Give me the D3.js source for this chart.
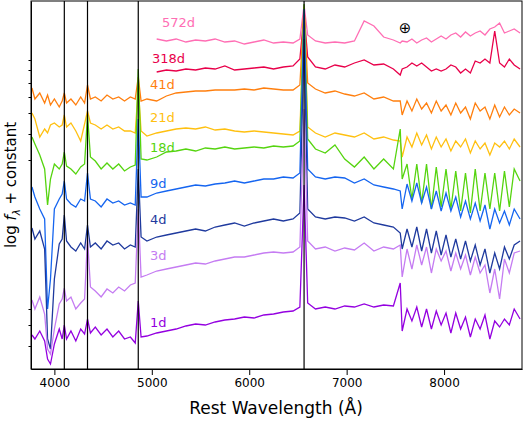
<!DOCTYPE html>
<html><head><meta charset="utf-8">
<script src="https://cdn.jsdelivr.net/npm/d3@7"></script>
<style>body{margin:0;background:#fff}text{font-family:"DejaVu Sans",sans-serif}</style>
</head><body><div id="chart"></div>
<script>
const wave = [3770,3800,3850,3900,3930,3960,4000,4050,4080,4102,4125,4170,4220,4270,4310,4340,4370,4420,4480,4540,4600,4660,4720,4780,4830,4861,4890,4950,5050,5150,5250,5350,5450,5550,5650,5750,5850,5950,6050,6150,6250,6350,6450,6520,6563,6600,6680,6780,6880,6980,7080,7180,7280,7380,7480,7550,7570,7620,7670,7720,7770,7820,7870,7920,7970,8020,8070,8120,8170,8220,8270,8320,8370,8420,8470,8520,8570,8620,8670,8720,8780];
const N = null;
const spec1d = [34,30,38,28,10,5,25,40,30,44,30,38,28,40,35,50,36,42,34,40,32,38,30,32,26,68,32,33,36,38,40,43,45,44,47,49,50,52,51,54,55,57,58,62,184,66,60,62,60,63,62,65,62,64,63,86,38,60,48,62,42,60,40,58,44,56,36,56,40,52,32,50,40,54,30,48,42,50,44,60,50];
const spec3d = [69,60,72,55,20,15,40,65,70,81,68,72,60,66,70,131,82,78,72,80,76,82,78,84,86,160,92,94,98,100,102,104,106,105,108,110,112,112,114,116,117,116,117,122,260,128,120,122,118,121,119,126,118,122,120,124,92,120,100,124,104,122,96,120,108,118,98,116,100,114,94,112,96,104,76,100,70,110,96,116,118];
const spec4d = [141,130,138,120,30,20,90,125,130,154,128,122,118,126,120,144,122,126,120,128,124,126,120,124,122,200,132,128,132,134,136,138,140,138,142,144,146,143,146,148,150,148,150,156,330,160,152,150,152,151,148,152,146,144,142,136,120,140,122,142,118,140,116,138,114,134,112,130,110,128,108,124,104,120,96,116,100,122,110,124,128];
const spec9d = [182,172,160,150,60,90,160,170,175,188,170,165,162,170,168,196,170,168,162,170,166,168,164,166,164,250,172,172,176,178,180,182,184,183,185,186,188,186,188,190,190,192,191,196,360,200,192,190,192,191,186,190,184,182,180,178,160,185,168,186,166,182,160,178,158,176,158,172,152,168,150,166,148,164,140,160,146,158,144,160,150];
const spec18d = [232,225,214,200,164,190,205,200,205,217,203,200,195,202,205,254,212,208,200,206,200,205,198,202,204,300,210,209,212,217,218,220,218,221,220,222,220,221,222,221,223,222,223,228,365,230,220,216,224,210,202,212,200,210,200,240,190,205,170,205,166,205,160,202,162,200,160,198,158,196,156,200,158,196,160,196,158,198,162,200,188];
const spec21d = [256,250,232,240,236,244,246,242,244,254,242,246,238,228,245,258,246,244,240,244,240,242,238,238,236,282,238,233,236,238,240,241,240,242,239,240,238,237,238,237,236,235,234,238,362,242,236,232,236,234,232,236,230,232,229,228,212,232,222,236,224,234,220,232,222,230,218,228,222,230,216,228,220,226,214,226,222,228,220,230,222];
const spec41d = [281,270,276,266,274,264,270,262,268,276,266,270,264,272,266,284,270,272,268,274,270,272,268,272,270,292,268,270,268,273,276,277,278,278,279,279,279,280,279,281,280,279,279,284,362,286,280,276,278,275,273,276,270,272,268,268,254,268,258,270,260,266,256,268,258,264,254,266,256,262,250,266,258,262,250,264,252,262,254,260,256];
const spec318d = [N,N,N,N,N,N,N,N,N,N,N,N,N,N,N,N,N,N,N,N,N,N,N,N,N,N,N,N,297,299,298,300,299,301,300,303,299,300,301,302,300,302,303,310,355,312,302,300,304,302,306,309,304,305,300,294,300,302,306,303,306,302,298,300,298,300,304,302,296,300,296,308,306,310,306,338,306,302,310,304,300];
const spec572d = [N,N,N,N,N,N,N,N,N,N,N,N,N,N,N,N,N,N,N,N,N,N,N,N,N,N,N,N,330,328,330,327,329,328,330,327,328,325,327,329,326,327,326,330,364,334,328,326,327,326,328,348,343,332,329,326,328,327,330,326,329,331,327,330,333,330,334,336,332,337,333,336,338,334,340,342,346,336,338,340,336];

const series = [
  {label:"572d", color:"#ff6eb4", values:spec572d, lx:162, ly:27},
  {label:"318d", color:"#e8004a", values:spec318d, lx:152, ly:63},
  {label:"41d", color:"#ff7f0e", values:spec41d, lx:150, ly:89},
  {label:"21d", color:"#ffc010", values:spec21d, lx:150, ly:122},
  {label:"18d", color:"#55d40f", values:spec18d, lx:150, ly:152},
  {label:"9d", color:"#1565f0", values:spec9d, lx:150, ly:188},
  {label:"4d", color:"#1f3a9e", values:spec4d, lx:150, ly:224},
  {label:"3d", color:"#c57cf2", values:spec3d, lx:150, ly:260},
  {label:"1d", color:"#9400e0", values:spec1d, lx:150, ly:327}
];
const lineWaves = [4102, 4340, 4861, 6563];
const yTicks = [309,299,286,272,256,235,209,60,44,23];
const xTicks = [4000,5000,6000,7000,8000];

const W = 525, H = 421;
const svg = d3.select("#chart").append("svg").attr("width", W).attr("height", H);
const x = d3.scaleLinear().domain([3760, 8800]).range([31, 522]);
const y = d3.scaleLinear().domain([0, 368]).range([369, 1]);

const line = d3.line()
  .defined(d => d[1] !== null)
  .x(d => x(d[0])).y(d => y(d[1]));

const g = svg.append("g");
series.forEach(s => {
  g.append("path")
    .datum(wave.map((w, i) => [w, s.values[i]]))
    .attr("fill", "none").attr("stroke", s.color).attr("stroke-width", 1.3)
    .attr("d", line);
});

svg.selectAll(".vl").data(lineWaves).join("line")
  .attr("x1", d => x(d)).attr("x2", d => x(d))
  .attr("y1", 1).attr("y2", 369)
  .attr("stroke", "#000").attr("stroke-width", 1.2);

series.forEach(s => {
  svg.append("text").attr("x", s.lx).attr("y", s.ly)
    .attr("fill", s.color).attr("font-size", 13).text(s.label);
});
svg.append("text").attr("x", 405).attr("y", 33).attr("text-anchor", "middle")
  .attr("font-size", 15).text("⊕");

svg.append("g").attr("transform", "translate(0,369)")
  .call(d3.axisBottom(x).tickValues(xTicks).tickFormat(d3.format("d")).tickSizeOuter(0))
  .call(a => a.selectAll("text").attr("font-size", 12).attr("fill", "#000"));
svg.append("g").attr("transform", "translate(31,0)")
  .call(d3.axisLeft(y).tickValues(yTicks).tickFormat("").tickSize(2.5).tickSizeOuter(0));
svg.append("rect").attr("x", 31).attr("y", 1).attr("width", 491).attr("height", 368)
  .attr("fill", "none").attr("stroke", "#000").attr("stroke-width", 1);

svg.append("text").attr("x", 276).attr("y", 414).attr("text-anchor", "middle")
  .attr("font-size", 17).text("Rest Wavelength (Å)");
const yl = svg.append("text").attr("transform", "translate(16,185) rotate(-90)")
  .attr("text-anchor", "middle").attr("font-size", 15);
yl.append("tspan").text("log ");
yl.append("tspan").attr("font-style", "italic").text("f");
yl.append("tspan").attr("font-size", 10).attr("dy", 4).attr("font-style", "italic").text("λ");
yl.append("tspan").attr("dy", -4).text(" + constant");
</script></body></html>
